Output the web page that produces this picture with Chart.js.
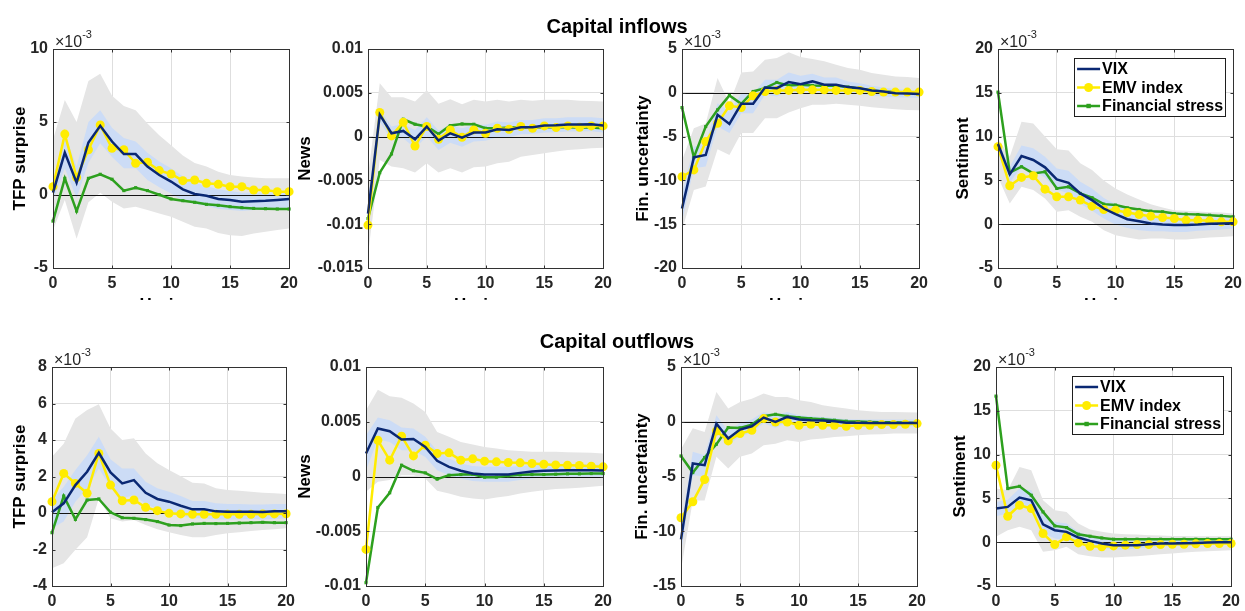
<!DOCTYPE html>
<html>
<head>
<meta charset="utf-8">
<script src="https://cdn.jsdelivr.net/npm/chart.js@4.4.1/dist/chart.umd.min.js"></script>
<style>
  body { margin: 0; background: #fff; }
  #fig { position: relative; width: 1245px; height: 611px; overflow: hidden; font-family: "Liberation Sans", Arial, Helvetica, sans-serif; }
  .row { position: absolute; left: 0; top: 0; width: 1245px; overflow: hidden; }
  .row canvas { position: absolute; }
  .title { position: absolute; transform: translateX(-50%); font-size: 20px; line-height: 20px; font-weight: bold; color: #000; white-space: nowrap; }
</style>
</head>
<body>
<div id="fig">
  <div class="row" id="rowTop" style="height:300px"></div>
  <div class="row" id="rowBottom" style="height:611px"></div>
  <div class="title" style="left:617px; top:16px">Capital inflows</div>
  <div class="title" style="left:617px; top:331px">Capital outflows</div>
</div>
<script>
// impulse responses, horizons 0..20, values in units of 1e-3
const horizon = [0, 1, 2, 3, 4, 5, 6, 7, 8, 9, 10, 11, 12, 13, 14, 15, 16, 17, 18, 19, 20];

// ---- capital inflows ----
const inTfpVix = [0.16, 2.9, 0.85, 3.6, 4.74, 3.66, 2.8, 2.8, 1.95, 1.37, 0.92, 0.39, 0.07, -0.05, -0.27, -0.34, -0.46, -0.43, -0.4, -0.34, -0.27];
const inTfpEmv = [0.57, 4.17, 1.2, 3.1, 4.8, 3.2, 3.1, 2.17, 2.24, 1.67, 1.44, 0.98, 1.03, 0.8, 0.73, 0.57, 0.57, 0.34, 0.34, 0.23, 0.23];
const inTfpFs = [-1.79, 1.14, -1.1, 1.14, 1.42, 1.08, 0.3, 0.5, 0.3, 0.02, -0.27, -0.39, -0.5, -0.64, -0.71, -0.8, -0.87, -0.92, -0.94, -0.96, -0.96];
const inTfpOuterHi = [3.8, 6.5, 5.0, 7.8, 8.3, 6.8, 6.1, 5.8, 4.9, 4.1, 3.4, 2.7, 2.2, 1.95, 1.6, 1.37, 1.26, 1.2, 1.15, 1.15, 1.15];
const inTfpOuterLo = [-2.4, -0.34, -3.0, -0.5, 0.16, -0.46, -0.92, -0.8, -1.03, -1.26, -1.49, -1.83, -2.18, -2.3, -2.6, -2.75, -2.8, -2.63, -2.52, -2.4, -2.29];
const inTfpInnerHi = [0.57, 4.2, 1.95, 5.0, 5.8, 4.6, 3.9, 3.66, 2.9, 2.3, 1.83, 1.26, 0.85, 0.6, 0.39, 0.27, 0.16, 0.16, 0.16, 0.2, 0.27];
const inTfpInnerLo = [-0.34, 1.83, -0.23, 2.2, 3.55, 2.6, 1.83, 1.83, 1.03, 0.53, 0.11, -0.39, -0.62, -0.76, -0.94, -1.03, -1.1, -1.03, -0.98, -0.92, -0.85];

const inNewsVix = [-8.8, 2.5, 0.38, 0.65, -0.3, 1.15, -0.46, 0.38, -0.11, 0.46, 0.46, 0.84, 0.76, 1.07, 1.07, 1.26, 1.3, 1.37, 1.37, 1.41, 1.26];
const inNewsEmv = [-10.1, 2.75, 0.08, 1.64, -1.07, 1.15, -0.3, 0.76, -0.08, 0.76, 0.38, 0.95, 0.84, 1.15, 0.95, 1.22, 1.03, 1.22, 1.07, 1.22, 1.22];
const inNewsFs = [-9.35, -4.12, -1.98, 1.98, 1.41, 1.15, 0.3, 1.26, 1.45, 1.41, 0.95, 0.95, 1.03, 1.07, 1.03, 1.07, 1.07, 1.07, 1.03, 1.03, 0.95];
const inNewsOuterHi = [-4.5, 6.1, 4.5, 4.5, 4.0, 5.3, 3.74, 4.27, 3.7, 4.2, 4.0, 4.2, 4.0, 4.2, 4.1, 4.2, 4.2, 4.2, 4.1, 4.05, 4.0];
const inNewsOuterLo = [-13.5, -2.67, -3.4, -3.6, -4.1, -3.05, -4.1, -3.6, -4.1, -3.5, -3.4, -3.05, -2.86, -2.3, -2.1, -1.9, -1.7, -1.53, -1.45, -1.34, -1.26];
const inNewsInnerHi = [-7.25, 3.05, 1.15, 1.45, 0.76, 2.2, 0.69, 1.34, 0.95, 1.34, 1.34, 1.72, 1.6, 1.9, 1.9, 2.1, 2.1, 2.2, 2.2, 2.2, 2.1];
const inNewsInnerLo = [-10.3, 1.72, -0.38, -0.19, -1.34, 0, -1.53, -0.69, -1.15, -0.57, -0.46, -0.08, -0.08, 0.27, 0.3, 0.46, 0.5, 0.57, 0.57, 0.61, 0.46];

const inFinVix = [-13.2, -7.37, -7.1, -2.52, -3.55, -1.26, -1.26, 0.61, 0.53, 1.22, 0.99, 1.3, 0.92, 0.92, 0.65, 0.53, 0.27, 0.15, -0.04, -0.08, -0.15];
const inFinEmv = [-9.58, -8.8, -5.57, -3.47, -1.49, -1.68, -0.34, 0.15, 0.27, 0.27, 0.34, 0.34, 0.34, 0.27, 0.27, 0.27, 0.15, 0.08, 0.08, 0.08, 0.08];
const inFinFs = [-1.68, -7.37, -3.85, -1.95, -0.3, -1.26, 0.15, 0.53, 1.18, 0.84, 0.92, 0.84, 0.8, 0.8, 0.65, 0.46, 0.27, 0.15, 0.08, 0.04, -0.04];
const inFinOuterHi = [-7.7, -4.05, -3.5, 1.68, -1.2, 2.33, 2.44, 3.78, 3.97, 4.62, 4.08, 3.85, 3.59, 3.2, 2.82, 2.63, 2.25, 2.06, 1.87, 1.8, 1.68];
const inFinOuterLo = [-15.7, -11.1, -10.7, -6.45, -7.1, -4.6, -4.6, -2.9, -2.9, -2.25, -1.76, -1.37, -1.37, -1.26, -1.37, -1.49, -1.64, -1.76, -1.87, -1.95, -2.0];
const inFinInnerHi = [-11.5, -6.15, -5.76, -1.18, -2.14, -0.11, -0.11, 1.49, 1.49, 2.33, 1.95, 2.18, 1.76, 1.76, 1.3, 1.1, 0.8, 0.61, 0.42, 0.34, 0.27];
const inFinInnerLo = [-14.7, -8.6, -8.4, -3.85, -4.6, -2.33, -2.33, -0.23, -0.42, 0.15, -0.04, 0.34, -0.04, 0.04, -0.11, -0.15, -0.34, -0.42, -0.5, -0.53, -0.6];

const inSentVix = [9.16, 5.69, 7.79, 7.33, 6.49, 5.11, 4.73, 3.51, 2.75, 1.79, 1.15, 0.57, 0.34, 0.08, -0.04, -0.08, -0.08, -0.04, 0.04, 0.08, 0.11];
const inSentEmv = [8.85, 4.39, 5.34, 5.53, 4.0, 3.13, 3.13, 2.75, 2.06, 1.68, 1.6, 1.34, 1.1, 0.92, 0.76, 0.65, 0.46, 0.46, 0.38, 0.27, 0.27];
const inSentFs = [15.08, 5.88, 6.56, 5.8, 5.99, 4.08, 4.27, 3.51, 3.02, 2.29, 2.18, 1.87, 1.68, 1.49, 1.41, 1.22, 1.15, 1.1, 1.03, 0.95, 0.84];
const inSentOuterHi = [9.8, 7.7, 11.7, 11.5, 10.0, 8.55, 8.4, 6.95, 6.2, 5.0, 4.08, 3.4, 2.82, 2.29, 1.91, 1.6, 1.53, 1.45, 1.37, 1.34, 1.22];
const inSentOuterLo = [5.4, 2.37, 4.27, 3.9, 2.94, 1.41, 1.6, 0.84, 0.27, -0.69, -1.26, -1.53, -1.76, -1.64, -1.64, -1.76, -1.76, -1.64, -1.53, -1.45, -1.37];
const inSentInnerHi = [9.4, 6.56, 8.97, 8.66, 7.7, 6.37, 6.1, 4.85, 4.08, 3.0, 2.29, 1.53, 1.22, 0.92, 0.76, 0.65, 0.65, 0.65, 0.65, 0.65, 0.65];
const inSentInnerLo = [8.1, 4.73, 6.56, 6.1, 5.34, 3.97, 3.51, 2.37, 1.53, 0.65, -0.04, -0.42, -0.69, -0.8, -0.8, -0.88, -0.88, -0.76, -0.69, -0.61, -0.5];

// ---- capital outflows ----
const outTfpVix = [0.04, 0.53, 1.53, 2.26, 3.3, 2.22, 1.62, 1.8, 1.11, 0.77, 0.62, 0.4, 0.2, 0.2, 0.09, 0.07, 0.07, 0.07, 0.05, 0.09, 0.09];
const outTfpEmv = [0.62, 2.17, 1.62, 1.08, 3.26, 1.53, 0.67, 0.71, 0.31, 0.13, -0.02, -0.05, -0.07, -0.07, -0.07, -0.07, -0.07, -0.07, -0.05, -0.05, -0.04];
const outTfpFs = [-1.08, 0.93, -0.35, 0.71, 0.77, 0.04, -0.26, -0.29, -0.36, -0.47, -0.66, -0.69, -0.6, -0.57, -0.58, -0.57, -0.55, -0.53, -0.51, -0.53, -0.53];
const outTfpOuterHi = [3.08, 3.8, 5.18, 5.64, 5.96, 4.63, 4.0, 4.1, 3.26, 2.72, 2.35, 2.02, 1.66, 1.62, 1.35, 1.26, 1.22, 1.17, 1.11, 1.08, 1.04];
const outTfpOuterLo = [-3.03, -2.75, -2.02, -1.33, 0.8, -0.29, -0.47, -0.38, -0.66, -0.89, -1.06, -1.2, -1.33, -1.33, -1.2, -1.11, -1.06, -0.98, -0.93, -0.89, -0.84];
const outTfpInnerHi = [0.71, 1.44, 2.35, 3.17, 4.18, 2.94, 2.44, 2.44, 1.71, 1.35, 1.17, 0.93, 0.66, 0.66, 0.53, 0.49, 0.49, 0.47, 0.47, 0.49, 0.49];
const outTfpInnerLo = [-0.84, -0.47, 0.62, 1.35, 2.44, 1.44, 0.8, 0.98, 0.49, 0.2, 0.07, -0.16, -0.29, -0.29, -0.35, -0.35, -0.35, -0.33, -0.35, -0.33, -0.29];

const outNewsVix = [2.1, 4.38, 4.13, 3.37, 3.43, 2.7, 1.43, 0.88, 0.52, 0.27, 0.18, 0.18, 0.18, 0.33, 0.46, 0.52, 0.55, 0.58, 0.58, 0.58, 0.55];
const outNewsEmv = [-6.66, 3.31, 1.49, 3.68, 1.88, 2.86, 2.1, 2.16, 1.49, 1.61, 1.4, 1.34, 1.28, 1.25, 1.19, 1.12, 1.06, 1.03, 1.0, 0.94, 0.88];
const outNewsFs = [-9.7, -2.83, -1.49, 1.03, 0.52, 0.33, -0.24, 0.12, 0.18, 0.21, -0.06, -0.06, 0.06, 0.15, 0.18, 0.18, 0.21, 0.24, 0.24, 0.27, 0.27];
const outNewsOuterHi = [6.05, 7.93, 7.33, 7.2, 6.66, 5.9, 4.07, 3.62, 3.16, 2.92, 2.7, 2.55, 2.4, 2.34, 2.25, 2.25, 2.25, 2.22, 2.19, 2.16, 2.1];
const outNewsOuterLo = [-1.4, -0.49, -0.33, 0.12, 0.12, -0.18, -1.31, -1.55, -1.85, -2.0, -2.1, -1.91, -1.79, -1.55, -1.4, -1.25, -1.15, -1.09, -1.03, -0.94, -0.85];
const outNewsInnerHi = [3.77, 5.38, 5.14, 4.47, 4.38, 3.62, 2.34, 1.64, 1.19, 0.97, 0.88, 0.88, 0.88, 0.97, 1.06, 1.12, 1.12, 1.12, 1.12, 1.12, 1.09];
const outNewsInnerLo = [0.58, 3.37, 3.16, 2.4, 2.4, 1.79, 0.58, 0.12, -0.18, -0.4, -0.49, -0.49, -0.49, -0.33, -0.18, -0.09, -0.03, -0.03, -0.03, -0.03, -0.03];

const outFinVix = [-10.74, -3.81, -3.97, -0.17, -1.53, -0.71, -0.41, 0.38, -0.02, 0.44, 0.2, 0.14, 0.11, 0.05, -0.08, -0.08, -0.11, -0.11, -0.11, -0.11, -0.11];
const outFinEmv = [-8.77, -7.31, -5.27, -0.84, -1.75, -1.08, -0.78, 0.29, -0.02, -0.02, -0.32, -0.23, -0.32, -0.32, -0.41, -0.32, -0.32, -0.26, -0.26, -0.23, -0.17];
const outFinFs = [-3.12, -4.64, -3.27, -2.05, -0.53, -0.56, -0.26, 0.5, 0.68, 0.5, 0.38, 0.29, 0.23, 0.14, 0.05, 0.02, -0.02, -0.05, -0.05, -0.08, -0.11];
const outFinOuterHi = [-2.5, -0.6, -0.93, 2.72, 1.2, 1.81, 2.11, 2.57, 2.26, 2.26, 1.96, 1.81, 1.5, 1.35, 1.2, 1.05, 0.96, 0.9, 0.9, 0.87, 0.84];
const outFinOuterLo = [-13.5, -7.2, -7.2, -3.2, -4.27, -3.2, -2.9, -2.14, -2.0, -1.69, -1.84, -1.63, -1.54, -1.39, -1.33, -1.24, -1.17, -1.14, -1.08, -1.08, -1.08];
const outFinInnerHi = [-9.6, -2.75, -3.05, 0.59, -0.87, -0.11, 0.2, 0.9, 0.59, 0.9, 0.59, 0.5, 0.44, 0.35, 0.23, 0.2, 0.2, 0.2, 0.2, 0.2, 0.2];
const outFinInnerLo = [-12.0, -4.88, -4.97, -0.93, -2.14, -1.32, -1.02, -0.11, -0.56, -0.02, -0.23, -0.26, -0.26, -0.29, -0.38, -0.38, -0.41, -0.41, -0.41, -0.41, -0.41];

const outSentVix = [3.84, 4.03, 5.09, 4.79, 2.05, 1.37, 1.18, 0.53, 0.15, -0.15, -0.34, -0.34, -0.34, -0.23, -0.15, -0.15, -0.11, -0.08, -0.04, 0, 0];
const outSentEmv = [8.78, 2.96, 4.22, 3.84, 0.99, -0.27, 0.61, -0.08, -0.46, -0.53, -0.42, -0.34, -0.27, -0.27, -0.27, -0.23, -0.23, -0.19, -0.15, -0.15, -0.15];
const outSentFs = [16.68, 6.12, 6.38, 5.36, 3.46, 1.86, 1.67, 0.91, 0.68, 0.49, 0.34, 0.34, 0.34, 0.34, 0.34, 0.34, 0.34, 0.34, 0.34, 0.34, 0.34];
const outSentOuterHi = [6.12, 5.93, 8.59, 8.2, 4.79, 3.65, 3.46, 2.13, 1.44, 1.18, 0.99, 0.91, 0.87, 0.8, 0.76, 0.72, 0.72, 0.68, 0.68, 0.68, 0.68];
const outSentOuterLo = [0.61, 1.37, 1.75, 1.37, -1.1, -0.91, -0.53, -1.37, -1.6, -1.75, -1.75, -1.67, -1.6, -1.48, -1.37, -1.29, -1.18, -1.1, -1.03, -0.99, -0.91];
const outSentInnerHi = [4.6, 4.86, 6.12, 5.93, 3.08, 2.32, 2.13, 1.18, 0.68, 0.34, 0.23, 0.15, 0.15, 0.23, 0.23, 0.23, 0.23, 0.23, 0.23, 0.23, 0.23];
const outSentInnerLo = [2.96, 3.27, 4.03, 3.65, 1.06, 0.42, 0.23, -0.15, -0.46, -0.72, -0.84, -0.84, -0.72, -0.61, -0.53, -0.46, -0.42, -0.34, -0.27, -0.23, -0.19];

const seriesNames = ['VIX', 'EMV index', 'Financial stress'];

const VIX_COLOR = 'rgb(10,40,115)';
const EMV_COLOR = 'rgb(255,236,0)';
const FS_COLOR = 'rgb(45,160,30)';
const OUTER_BAND = 'rgb(229,229,229)';
const INNER_BAND = 'rgb(204,220,246)';
const GRID_COLOR = 'rgb(222,222,222)';
const AXIS_COLOR = 'rgb(50,50,50)';
const TICK_COLOR = 'rgb(38,38,38)';

// x-axis box height: the "Horizon" label of the top row sits mostly under the lower panels
const PAD_TOP = 28, PAD_RIGHT = 12, XAXIS_H = 48;

Chart.defaults.font.family = '"Liberation Sans", Arial, Helvetica, sans-serif';
Chart.defaults.color = TICK_COLOR;

const panels = [
  { row: 'rowTop', left: 53, right: 292, top: 49, bottom: 268, titleX: 20, yLabel: 'TFP surprise', yMin: -5, yMax: 10, yStep: 5, exponent: true,
    vix: inTfpVix, emv: inTfpEmv, fs: inTfpFs, outerHi: inTfpOuterHi, outerLo: inTfpOuterLo, innerHi: inTfpInnerHi, innerLo: inTfpInnerLo },
  { row: 'rowTop', left: 368, right: 606, top: 49, bottom: 268, titleX: 305, yLabel: 'News', yMin: -15, yMax: 10, yStep: 5, exponent: false,
    vix: inNewsVix, emv: inNewsEmv, fs: inNewsFs, outerHi: inNewsOuterHi, outerLo: inNewsOuterLo, innerHi: inNewsInnerHi, innerLo: inNewsInnerLo },
  { row: 'rowTop', left: 682, right: 922, top: 49, bottom: 268, titleX: 643, yLabel: 'Fin. uncertainty', yMin: -20, yMax: 5, yStep: 5, exponent: true,
    vix: inFinVix, emv: inFinEmv, fs: inFinFs, outerHi: inFinOuterHi, outerLo: inFinOuterLo, innerHi: inFinInnerHi, innerLo: inFinInnerLo },
  { row: 'rowTop', left: 998, right: 1236, top: 49, bottom: 268, titleX: 963, yLabel: 'Sentiment', yMin: -5, yMax: 20, yStep: 5, exponent: true, legend: true,
    vix: inSentVix, emv: inSentEmv, fs: inSentFs, outerHi: inSentOuterHi, outerLo: inSentOuterLo, innerHi: inSentInnerHi, innerLo: inSentInnerLo },
  { row: 'rowBottom', left: 52, right: 289, top: 367, bottom: 586, titleX: 20, yLabel: 'TFP surprise', yMin: -4, yMax: 8, yStep: 2, exponent: true,
    vix: outTfpVix, emv: outTfpEmv, fs: outTfpFs, outerHi: outTfpOuterHi, outerLo: outTfpOuterLo, innerHi: outTfpInnerHi, innerLo: outTfpInnerLo },
  { row: 'rowBottom', left: 366, right: 606, top: 367, bottom: 586, titleX: 305, yLabel: 'News', yMin: -10, yMax: 10, yStep: 5, exponent: false,
    vix: outNewsVix, emv: outNewsEmv, fs: outNewsFs, outerHi: outNewsOuterHi, outerLo: outNewsOuterLo, innerHi: outNewsInnerHi, innerLo: outNewsInnerLo },
  { row: 'rowBottom', left: 681, right: 920, top: 367, bottom: 586, titleX: 642, yLabel: 'Fin. uncertainty', yMin: -15, yMax: 5, yStep: 5, exponent: true,
    vix: outFinVix, emv: outFinEmv, fs: outFinFs, outerHi: outFinOuterHi, outerLo: outFinOuterLo, innerHi: outFinInnerHi, innerLo: outFinInnerLo },
  { row: 'rowBottom', left: 996, right: 1234, top: 367, bottom: 586, titleX: 960, yLabel: 'Sentiment', yMin: -5, yMax: 20, yStep: 5, exponent: true, legend: true,
    vix: outSentVix, emv: outSentEmv, fs: outSentFs, outerHi: outSentOuterHi, outerLo: outSentOuterLo, innerHi: outSentInnerHi, innerLo: outSentInnerLo }
];

function points(values) {
  return horizon.map((h, i) => ({ x: h, y: values[i] }));
}

// zero line under the curves, then the box, inward ticks, exponent and legend on top
const matlabAxes = {
  id: 'matlabAxes',
  beforeDatasetsDraw(chart) {
    const { ctx, chartArea: a, scales: { y } } = chart;
    const y0 = Math.round(y.getPixelForValue(0)) + 0.5;
    ctx.save();
    ctx.strokeStyle = 'rgb(20,20,20)';
    ctx.lineWidth = 1;
    ctx.beginPath();
    ctx.moveTo(a.left, y0);
    ctx.lineTo(a.right, y0);
    ctx.stroke();
    ctx.restore();
  },
  afterDatasetsDraw(chart, args, opts) {
    const { ctx, chartArea: a, scales: { x, y } } = chart;
    const L = Math.round(a.left) + 0.5, R = Math.round(a.right) + 0.5;
    const T = Math.round(a.top) + 0.5, B = Math.round(a.bottom) + 0.5;
    ctx.save();
    ctx.strokeStyle = AXIS_COLOR;
    ctx.lineWidth = 1;
    ctx.strokeRect(L, T, R - L, B - T);
    ctx.beginPath();
    x.ticks.forEach(t => {
      const px = Math.round(x.getPixelForValue(t.value)) + 0.5;
      ctx.moveTo(px, B); ctx.lineTo(px, B - 3);
      ctx.moveTo(px, T); ctx.lineTo(px, T + 3);
    });
    y.ticks.forEach(t => {
      const py = Math.round(y.getPixelForValue(t.value)) + 0.5;
      ctx.moveTo(L, py); ctx.lineTo(L + 3, py);
      ctx.moveTo(R, py); ctx.lineTo(R - 3, py);
    });
    ctx.stroke();

    if (opts.exponent) {
      ctx.fillStyle = TICK_COLOR;
      ctx.textBaseline = 'alphabetic';
      ctx.textAlign = 'left';
      ctx.font = '16px "Liberation Sans", Arial, sans-serif';
      ctx.fillText('\u00d710', a.left + 2, a.top - 2);
      const w = ctx.measureText('\u00d710').width;
      ctx.font = '11px "Liberation Sans", Arial, sans-serif';
      ctx.fillText('-3', a.left + 2 + w, a.top - 11);
    }

    if (opts.legend) {
      const bx = a.right - 159, by = a.top + 9, bw = 151, bh = 58;
      ctx.fillStyle = '#fff';
      ctx.fillRect(bx, by, bw, bh);
      ctx.strokeStyle = 'rgb(30,30,30)';
      ctx.strokeRect(Math.round(bx) + 0.5, Math.round(by) + 0.5, bw, bh);
      ctx.font = 'bold 16px "Liberation Sans", Arial, sans-serif';
      ctx.textBaseline = 'middle';
      chart.data.datasets.slice(0, 3).forEach((ds, i) => {
        const ry = by + 11 + i * 18.5;
        ctx.strokeStyle = ds.borderColor;
        ctx.lineWidth = 2.5;
        ctx.beginPath();
        ctx.moveTo(bx + 3, ry);
        ctx.lineTo(bx + 26, ry);
        ctx.stroke();
        if (ds.pointRadius > 0) {
          ctx.fillStyle = ds.pointBackgroundColor;
          ctx.beginPath();
          if (ds.pointStyle === 'rect') {
            ctx.rect(bx + 14.5 - ds.pointRadius, ry - ds.pointRadius, ds.pointRadius * 2, ds.pointRadius * 2);
          } else {
            ctx.arc(bx + 14.5, ry, ds.pointRadius, 0, Math.PI * 2);
          }
          ctx.fill();
        }
        ctx.fillStyle = '#000';
        ctx.fillText(ds.label, bx + 28, ry + 1);
      });
    }
    ctx.restore();
  }
};

function buildPanel(p) {
  const canvas = document.createElement('canvas');
  const left = p.titleX - 10;
  const top = p.top - PAD_TOP;
  const width = p.right + PAD_RIGHT - left;
  const height = PAD_TOP + (p.bottom - p.top) + XAXIS_H;
  canvas.width = width;
  canvas.height = height;
  canvas.style.left = left + 'px';
  canvas.style.top = top + 'px';
  canvas.style.width = width + 'px';
  canvas.style.height = height + 'px';
  document.getElementById(p.row).appendChild(canvas);
  const yWidth = p.left - left;

  const tickFont = { size: 16, weight: 'bold' };
  const titleFont = { size: 17, weight: 'bold' };
  const band = (data, color, fill) => ({
    data: points(data), borderColor: 'rgba(0,0,0,0)', borderWidth: 1,
    backgroundColor: color, pointRadius: 0, fill: fill
  });

  new Chart(canvas, {
    type: 'line',
    data: {
      datasets: [
        { label: seriesNames[0], data: points(p.vix), borderColor: VIX_COLOR, borderWidth: 2.5,
          pointRadius: 0, fill: false, clip: false },
        { label: seriesNames[1], data: points(p.emv), borderColor: EMV_COLOR, borderWidth: 2.5,
          pointRadius: 4.5, pointBackgroundColor: EMV_COLOR, pointBorderWidth: 0, fill: false, clip: false },
        { label: seriesNames[2], data: points(p.fs), borderColor: FS_COLOR, borderWidth: 2.5,
          pointStyle: 'rect', pointRadius: 2.2, pointBackgroundColor: FS_COLOR, pointBorderWidth: 0, fill: false, clip: false },
        band(p.innerHi, INNER_BAND, '+1'),
        band(p.innerLo, INNER_BAND, false),
        band(p.outerHi, OUTER_BAND, '+1'),
        band(p.outerLo, OUTER_BAND, false)
      ]
    },
    options: {
      responsive: false,
      animation: false,
      devicePixelRatio: 1,
      layout: { padding: { left: 0, right: PAD_RIGHT, top: PAD_TOP, bottom: 0 } },
      elements: { line: { tension: 0 } },
      plugins: {
        legend: { display: false },
        tooltip: { enabled: false },
        filler: { drawTime: 'beforeDatasetsDraw' },
        matlabAxes: { exponent: p.exponent, legend: !!p.legend }
      },
      scales: {
        x: {
          type: 'linear', min: 0, max: 20,
          ticks: { stepSize: 5, padding: 6, font: tickFont, color: TICK_COLOR, maxRotation: 0, autoSkip: false },
          grid: { color: GRID_COLOR, drawTicks: false },
          border: { display: false },
          title: { display: true, text: 'Horizon', padding: 0, color: '#000', font: titleFont },
          afterFit: s => { s.height = XAXIS_H; }
        },
        y: {
          min: p.yMin, max: p.yMax,
          ticks: {
            stepSize: p.yStep, padding: 5, font: tickFont, color: TICK_COLOR, autoSkip: false,
            callback: v => p.exponent ? String(v) : String(v / 1000)
          },
          grid: { color: GRID_COLOR, drawTicks: false },
          border: { display: false },
          title: { display: true, text: p.yLabel, padding: 0, color: '#000', font: titleFont },
          afterFit: s => { s.width = yWidth; }
        }
      }
    },
    plugins: [matlabAxes]
  });
}

panels.forEach(buildPanel);
</script>
</body>
</html>
